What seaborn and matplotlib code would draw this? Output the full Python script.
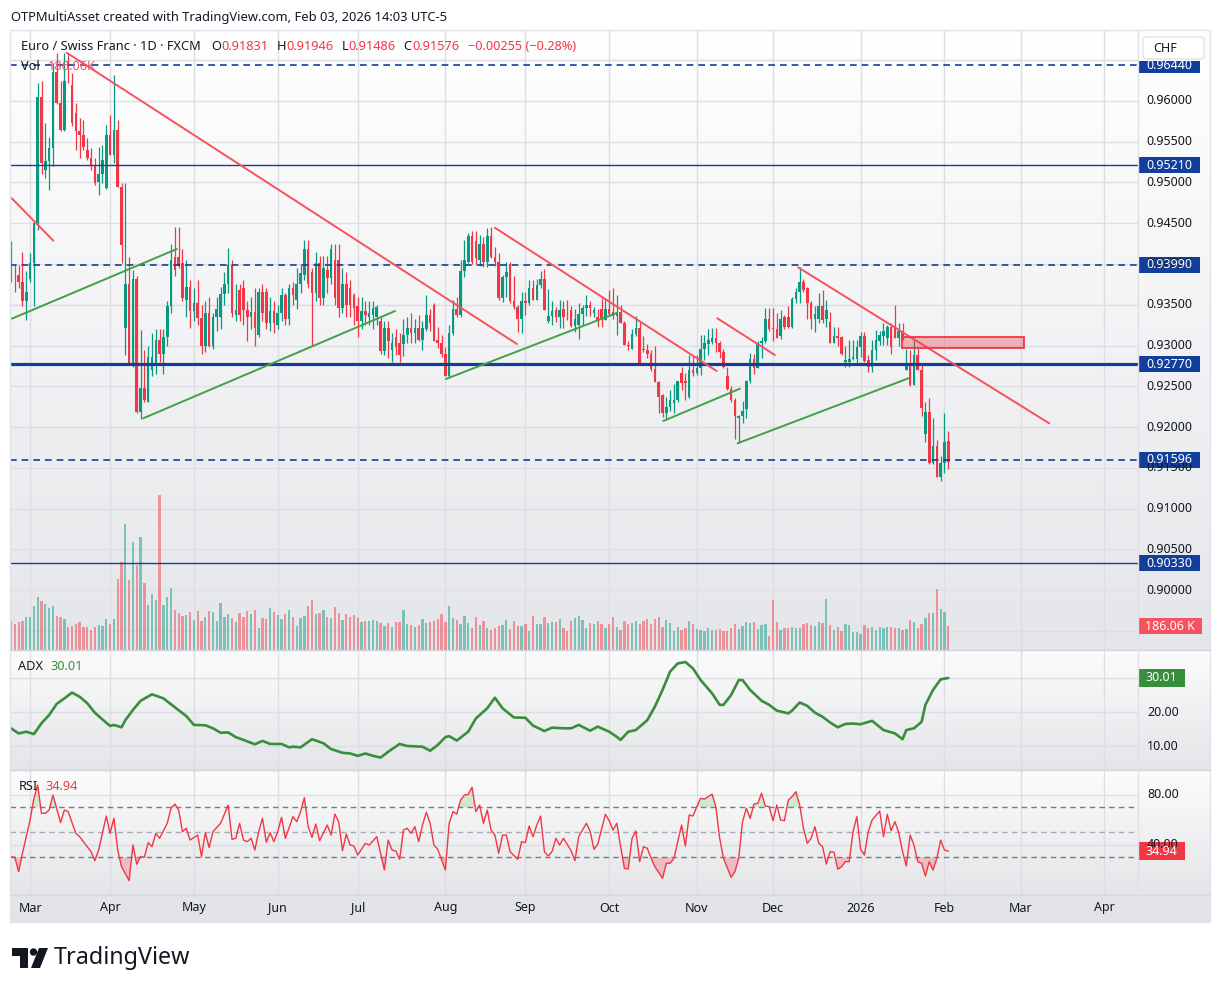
import numpy as np
import pandas as pd
import matplotlib
matplotlib.use("Agg")
import matplotlib.pyplot as plt
import matplotlib.transforms as mtransforms
from matplotlib.colors import LinearSegmentedColormap
from matplotlib.patches import Rectangle, Polygon, Circle, FancyBboxPatch
from matplotlib.lines import Line2D
from matplotlib.text import Annotation
import seaborn as sns

# ---------------------------------------------------------------- data
FIRST_SESSION = "2025-02-24"   # first daily bar shown (EUR/CHF, FXCM, 1D)

opens = [
    .9381, .9387, .9387, .9378, .9354, .9381, .9401, .9450, .9605, .9515,
    .9526, .9542, .9636, .9597, .9565, .9648, .9620, .9585, .9563, .9558,
    .9540, .9530, .9522, .9501, .9511, .9493, .9558, .9534, .9565, .9495,
    .9321, .9376, .9278, .9381, .9219, .9248, .9231, .9270, .9276, .9307,
    .9290, .9310, .9348, .9409, .9409, .9401, .9356, .9372, .9342, .9352,
    .9334, .9300, .9340, .9300, .9335, .9335, .9363, .9376, .9399, .9338,
    .9368, .9370, .9343, .9335, .9341, .9313, .9366, .9366, .9328, .9342,
    .9325, .9340, .9362, .9333, .9370, .9356, .9376, .9387, .9418, .9390,
    .9364, .9401, .9358, .9393, .9383, .9405, .9405, .9346, .9376, .9370,
    .9362, .9348, .9330, .9342, .9335, .9338, .9335, .9330, .9293, .9321,
    .9295, .9310, .9303, .9302, .9313, .9322, .9315, .9322, .9307, .9320,
    .9338, .9350, .9307, .9303, .9290, .9263, .9315, .9345, .9337, .9391,
    .9403, .9434, .9428, .9405, .9425, .9403, .9434, .9409, .9403, .9358,
    .9384, .9400, .9355, .9347, .9333, .9354, .9352, .9370, .9356, .9374,
    .9382, .9330, .9336, .9343, .9335, .9345, .9344, .9344, .9324, .9325,
    .9339, .9346, .9350, .9340, .9335, .9345, .9331, .9345, .9341, .9336,
    .9341, .9327, .9301, .9296, .9314, .9322, .9296, .9294, .9290, .9271,
    .9255, .9239, .9217, .9225, .9229, .9233, .9266, .9256, .9237, .9270,
    .9266, .9272, .9296, .9302, .9304, .9309, .9303, .9292, .9262, .9247,
    .9233, .9211, .9213, .9222, .9256, .9284, .9272, .9303, .9305, .9333,
    .9322, .9320, .9312, .9335, .9335, .9323, .9357, .9366, .9378, .9370,
    .9352, .9333, .9332, .9349, .9332, .9329, .9303, .9312, .9311, .9280,
    .9280, .9284, .9284, .9298, .9312, .9282, .9274, .9294, .9306, .9312,
    .9309, .9323, .9323, .9309, .9318, .9270, .9276, .9252, .9288, .9270,
    .9192, .9218, .9156, .9177, .9139, .9156, .91831,
]
highs = [
    .9428, .9399, .9399, .9415, .9391, .9413, .9452, .9622, .9624, .9573,
    .9556, .9646, .9659, .9624, .9659, .9659, .9634, .9597, .9579, .9577,
    .9554, .9542, .9530, .9544, .9546, .9571, .9583, .9632, .9577, .9499,
    .9499, .9409, .9393, .9385, .9319, .9295, .9299, .9315, .9320, .9320,
    .9320, .9355, .9425, .9445, .9445, .9418, .9405, .9380, .9370, .9380,
    .9350, .9355, .9360, .9340, .9360, .9372, .9390, .9420, .9405, .9375,
    .9375, .9380, .9355, .9360, .9370, .9370, .9375, .9370, .9360, .9355,
    .9350, .9370, .9365, .9375, .9378, .9395, .9400, .9430, .9430, .9395,
    .9415, .9410, .9410, .9410, .9425, .9425, .9425, .9395, .9390, .9380,
    .9365, .9360, .9360, .9355, .9355, .9355, .9350, .9335, .9330, .9330,
    .9315, .9320, .9315, .9333, .9335, .9340, .9333, .9337, .9330, .9362,
    .9345, .9352, .9323, .9313, .9298, .9325, .9356, .9360, .9405, .9430,
    .9438, .9440, .9440, .9435, .9433, .9444, .9445, .9421, .9413, .9386,
    .9403, .9403, .9385, .9350, .9366, .9366, .9380, .9380, .9382, .9391,
    .9394, .9369, .9354, .9347, .9356, .9354, .9356, .9348, .9345, .9352,
    .9350, .9362, .9354, .9347, .9345, .9358, .9357, .9368, .9371, .9362,
    .9350, .9330, .9305, .9320, .9336, .9329, .9312, .9302, .9294, .9299,
    .9257, .9241, .9237, .9245, .9253, .9256, .9274, .9266, .9288, .9288,
    .9288, .9313, .9313, .9320, .9321, .9321, .9305, .9296, .9274, .9250,
    .9235, .9215, .9232, .9258, .9291, .9290, .9305, .9310, .9346, .9346,
    .9346, .9340, .9344, .9337, .9348, .9360, .9370, .9396, .9382, .9372,
    .9354, .9348, .9364, .9368, .9356, .9341, .9323, .9323, .9312, .9299,
    .9307, .9307, .9307, .9316, .9316, .9288, .9307, .9319, .9318, .9327,
    .9325, .9327, .9350, .9327, .9328, .9296, .9294, .9307, .9298, .9276,
    .9231, .9235, .9211, .9184, .9164, .9217, .91946,
]
lows = [
    .9378, .9366, .9370, .9348, .9331, .9378, .9348, .9442, .9511, .9505,
    .9491, .9520, .9596, .9563, .9563, .9622, .9569, .9540, .9530, .9540,
    .9528, .9515, .9497, .9485, .9499, .9492, .9534, .9524, .9495, .9401,
    .9288, .9278, .9274, .9217, .9210, .9231, .9231, .9262, .9265, .9280,
    .9265, .9300, .9340, .9385, .9395, .9355, .9335, .9322, .9330, .9325,
    .9290, .9292, .9298, .9296, .9318, .9320, .9350, .9365, .9335, .9330,
    .9330, .9325, .9305, .9320, .9300, .9310, .9330, .9320, .9318, .9315,
    .9320, .9330, .9325, .9325, .9350, .9345, .9365, .9380, .9370, .9300,
    .9355, .9350, .9350, .9365, .9375, .9350, .9335, .9340, .9335, .9335,
    .9325, .9310, .9320, .9325, .9325, .9320, .9325, .9290, .9288, .9285,
    .9280, .9288, .9280, .9287, .9303, .9303, .9303, .9305, .9295, .9318,
    .9318, .9305, .9297, .9286, .9263, .9261, .9313, .9335, .9335, .9384,
    .9401, .9400, .9400, .9398, .9396, .9396, .9407, .9398, .9356, .9353,
    .9360, .9352, .9345, .9317, .9315, .9337, .9350, .9356, .9356, .9371,
    .9344, .9328, .9325, .9329, .9321, .9321, .9331, .9323, .9317, .9308,
    .9325, .9336, .9336, .9335, .9323, .9323, .9331, .9336, .9333, .9313,
    .9327, .9301, .9294, .9296, .9312, .9278, .9292, .9285, .9269, .9255,
    .9217, .9212, .9208, .9220, .9217, .9231, .9245, .9233, .9235, .9262,
    .9264, .9264, .9282, .9288, .9302, .9292, .9285, .9272, .9245, .9231,
    .9185, .9180, .9205, .9211, .9254, .9265, .9272, .9285, .9303, .9318,
    .9305, .9309, .9308, .9320, .9322, .9322, .9352, .9352, .9366, .9333,
    .9320, .9317, .9327, .9327, .9323, .9303, .9303, .9299, .9288, .9274,
    .9274, .9282, .9276, .9286, .9280, .9267, .9268, .9282, .9301, .9301,
    .9301, .9290, .9309, .9299, .9307, .9270, .9250, .9252, .9270, .9214,
    .9181, .9155, .9155, .9139, .9134, .9143, .91486,
]
closes = [
    .9389, .9386, .9378, .9354, .9366, .9401, .9450, .9605, .9524, .9526,
    .9542, .9636, .9597, .9565, .9624, .9643, .9573, .9563, .9558, .9544,
    .9530, .9522, .9499, .9511, .9528, .9558, .9534, .9565, .9495, .9423,
    .9376, .9278, .9381, .9219, .9248, .9233, .9286, .9286, .9307, .9290,
    .9310, .9348, .9405, .9393, .9397, .9358, .9372, .9342, .9352, .9334,
    .9300, .9340, .9300, .9335, .9345, .9363, .9376, .9399, .9340, .9343,
    .9338, .9343, .9335, .9341, .9321, .9366, .9340, .9328, .9342, .9328,
    .9340, .9362, .9333, .9370, .9362, .9376, .9389, .9418, .9376, .9364,
    .9401, .9358, .9395, .9383, .9418, .9358, .9346, .9376, .9350, .9350,
    .9346, .9330, .9342, .9337, .9340, .9346, .9347, .9293, .9321, .9305,
    .9303, .9298, .9288, .9313, .9322, .9315, .9322, .9307, .9322, .9338,
    .9328, .9305, .9303, .9290, .9263, .9315, .9345, .9337, .9391, .9405,
    .9434, .9403, .9407, .9425, .9403, .9434, .9409, .9403, .9358, .9384,
    .9390, .9355, .9347, .9333, .9354, .9352, .9370, .9356, .9374, .9382,
    .9344, .9336, .9342, .9335, .9344, .9335, .9343, .9324, .9332, .9339,
    .9346, .9350, .9346, .9344, .9331, .9331, .9345, .9339, .9336, .9341,
    .9327, .9301, .9299, .9314, .9322, .9278, .9294, .9290, .9271, .9255,
    .9237, .9217, .9225, .9233, .9233, .9256, .9254, .9254, .9270, .9266,
    .9272, .9296, .9303, .9307, .9309, .9303, .9292, .9274, .9247, .9233,
    .9213, .9213, .9220, .9256, .9284, .9272, .9303, .9305, .9333, .9320,
    .9320, .9309, .9333, .9323, .9323, .9357, .9366, .9378, .9368, .9352,
    .9333, .9339, .9349, .9331, .9344, .9303, .9312, .9309, .9290, .9282,
    .9284, .9286, .9298, .9312, .9281, .9274, .9294, .9307, .9313, .9318,
    .9323, .9298, .9309, .9318, .9308, .9276, .9252, .9288, .9270, .9223,
    .9218, .9156, .9177, .9139, .9156, .9182, .91576,
]
volume_k = [
    232, 205, 219, 232, 258, 263, 350, 416, 390, 363,
    329, 350, 271, 263, 248, 179, 187, 205, 219, 179,
    184, 161, 184, 200, 192, 248, 205, 248, 564, 698,
    998, 556, 856, 672, 895, 532, 358, 442, 398, 1227,
    358, 421, 492, 319, 295, 271, 279, 303, 240, 311,
    232, 258, 311, 303, 232, 374, 263, 287, 255, 224,
    295, 263, 311, 287, 319, 176, 255, 248, 334, 303,
    279, 248, 287, 319, 263, 192, 255, 271, 350, 398,
    287, 295, 319, 263, 255, 342, 295, 240, 287, 263,
    279, 255, 224, 232, 232, 240, 232, 211, 192, 216,
    184, 224,
    224, 319, 208, 200, 184, 200, 248, 216, 224, 232,
    248, 287, 224, 350, 255, 240, 208, 271, 216, 176,
    263, 200, 232, 176, 161, 176, 192, 200, 240, 168,
    232, 192, 192, 208, 153, 271, 208, 208, 263, 216,
    224, 224, 248, 176, 153, 232, 255, 271, 240, 176,
    216, 208, 232, 208, 176, 208, 263, 184, 161, 232,
    208, 216, 232, 208, 232, 248, 208, 248, 263, 184,
    240, 216, 153, 184, 161, 176, 232, 208, 168, 161,
    153, 176, 161, 161, 168, 153, 153, 176, 208, 168,
    192, 224, 216, 224, 168, 200, 208, 113, 398, 224,
    161, 176, 176, 184, 176, 176, 208, 216, 200, 192,
    224, 216, 406, 200, 161, 184, 153, 208, 200, 145,
    145, 129, 200, 176, 184, 161, 184, 176, 184, 184,
    176, 176, 161, 168, 240, 224, 176, 208, 255, 295,
    295, 485, 327, 303, 186.06,
]

adx_bar = [0, 2, 4, 6, 8, 10, 12, 14, 16, 18, 20, 22, 24, 26, 27, 29, 30, 32, 34, 37,
           40, 43, 46, 48, 51, 53, 55, 57, 59, 61, 64, 66, 68, 71, 73, 74, 76, 79, 82, 84,
           87, 89, 91, 93, 95, 97, 99, 102, 104, 108, 110, 112, 114, 115, 117, 120, 122, 125, 127, 129,
           132, 135, 137, 140, 142, 145, 147, 149, 152, 154, 157, 159, 160, 162, 164, 167, 169, 171, 173, 175,
           177, 179, 181, 184, 186, 187, 189, 191, 192, 194, 197, 199, 201, 204, 205, 207, 209, 211, 213, 215,
           217, 219, 221, 223, 226, 227, 229, 232, 234, 235, 237, 239, 240, 242, 244, 246]
adx_val = [15.2, 13.7, 14.2, 13.5, 16.7, 19.1, 22.4, 24.0, 25.7, 24.5, 22.6, 19.8, 17.8, 15.9, 16.2, 15.5, 17.6, 20.6, 23.3, 25.2,
           24.0, 21.4, 18.8, 16.2, 16.1, 15.2, 13.9, 14.0, 12.6, 11.8, 10.5, 11.5, 10.6, 10.6, 9.6, 9.8, 9.6, 12.0, 10.8, 9.1,
           8.0, 7.8, 7.1, 7.8, 7.1, 6.6, 8.3, 10.6, 10.0, 9.8, 8.6, 10.3, 12.6, 12.9, 11.6, 14.2, 18.1, 21.1, 24.2, 21.1,
           18.4, 18.3, 16.0, 14.4, 15.4, 15.2, 15.2, 16.2, 14.5, 15.7, 14.2, 12.7, 11.8, 14.2, 14.7, 17.6, 21.6, 26.5, 31.9, 34.3,
           34.7, 32.8, 29.4, 25.5, 22.1, 22.1, 25.0, 29.4, 29.4, 26.5, 23.3, 22.1, 20.4, 19.6, 20.4, 22.8, 21.8, 19.8, 18.6, 16.9,
           15.5, 16.5, 16.6, 16.4, 17.4, 16.5, 14.7, 13.7, 12.0, 14.7, 15.2, 17.1, 22.1, 26.5, 29.6, 30.01]

rsi_bar = [0, 1, 2, 3, 5, 6, 7, 8, 9, 10, 11, 13, 14, 15, 17, 18, 20, 21, 22, 23,
           25, 26, 27, 28, 29, 31, 32, 33, 34, 35, 36, 37, 38, 39, 41, 42, 43, 44, 45, 46,
           47, 49, 50, 51, 52, 53, 55, 57, 58, 59, 60, 61, 62, 63, 64, 65, 66, 67, 68, 69,
           70, 71, 72, 74, 75, 76, 77, 78, 79, 80, 81, 83, 84, 85, 86, 87, 88, 89, 90, 91,
           93, 94, 96, 98, 99, 100, 101, 102, 103, 104, 105, 106, 107, 108, 109, 110, 111, 112, 114, 115,
           116, 117, 118, 119, 120, 121, 122, 123, 124, 125, 126, 127, 128, 129, 130, 131, 133, 134, 135, 136,
           137, 138, 139, 140, 141, 142, 143, 144, 145, 147, 148, 149, 151, 152, 153, 154, 156, 157, 158, 159,
           160, 161, 162, 163, 164, 165, 166, 167, 168, 169, 171, 172, 173, 174, 176, 177, 178, 179, 180, 181,
           182, 184, 185, 186, 187, 189, 190, 191, 192, 193, 194, 195, 196, 197, 198, 199, 200, 201, 202, 203,
           204, 205, 206, 207, 208, 209, 210, 211, 212, 213, 214, 215, 216, 217, 218, 219, 220, 221, 222, 223,
           224, 225, 226, 228, 229, 230, 231, 232, 233, 234, 235, 236, 237, 238, 239, 240, 241, 242, 243, 244,
           245, 246]
rsi_val = [30.5, 30.0, 18.5, 33.2, 59.8, 77.2, 87.8, 65.2, 65.2, 67.8, 79.8, 57.7, 67.8, 66.5, 49.2, 46.5, 38.5, 34.5, 27.3, 35.8,
           63.0, 49.2, 61.2, 35.8, 22.5, 11.3, 39.8, 24.4, 30.5, 30.0, 41.7, 38.5, 49.2, 45.2, 57.2, 69.2, 72.6, 67.8, 50.5, 53.2,
           43.8, 47.8, 30.5, 49.7, 37.7, 50.5, 57.2, 71.8, 44.4, 45.2, 57.2, 43.8, 42.5, 45.2, 35.8, 50.5, 61.2, 42.0, 49.7, 42.5,
           50.5, 62.0, 45.2, 62.5, 58.5, 66.5, 77.7, 54.5, 46.0, 56.6, 43.3, 55.8, 47.8, 64.6, 58.5, 35.3, 48.6, 39.8, 39.0, 31.8,
           41.2, 39.8, 46.5, 19.8, 43.8, 35.8, 35.0, 28.4, 51.8, 53.2, 49.2, 54.5, 42.5, 55.8, 66.0, 57.2, 39.8, 36.4, 19.8, 57.2,
           66.5, 64.6, 75.8, 79.8, 80.4, 86.0, 66.5, 71.8, 57.2, 67.8, 51.8, 47.8, 33.2, 47.8, 47.8, 34.5, 28.4, 42.5, 41.7, 55.0,
           46.5, 55.8, 63.0, 34.5, 31.0, 34.5, 45.2, 39.8, 45.2, 35.3, 27.3, 46.5, 57.2, 51.0, 36.4, 40.4, 64.4, 59.3, 51.8, 57.2,
           38.5, 21.2, 20.6, 45.2, 51.0, 26.5, 38.5, 37.2, 29.2, 22.5, 13.2, 25.2, 25.2, 29.2, 55.8, 39.0, 63.8, 63.0, 70.5, 77.2,
           76.6, 80.6, 70.5, 45.2, 29.2, 14.0, 18.5, 29.2, 58.5, 69.2, 61.2, 72.6, 73.2, 81.2, 71.0, 70.5, 59.3, 71.8, 59.8, 59.3,
           75.8, 78.5, 82.5, 71.8, 53.2, 41.2, 45.2, 54.5, 41.2, 38.5, 24.6, 34.5, 34.0, 20.4, 22.5, 26.5, 26.5, 50.5, 62.5, 36.4,
           31.8, 50.5, 59.8, 67.0, 46.5, 64.4, 51.3, 58.5, 49.7, 34.5, 23.0, 47.8, 39.8, 26.5, 25.2, 15.0, 26.5, 19.8, 29.2, 43.8,
           35.8, 34.94]

# horizontal levels drawn on the chart
level_prices = [0.96440, 0.95210, 0.93990, 0.92770, 0.91596, 0.90330]
# trend lines: (start bar, start price, end bar, end price)
red_trend = [(0.2, 0.94806, 11.1, 0.94286), (14.6, 0.96593, 132.8, 0.93018),
             (127.0, 0.94445, 185.2, 0.92687), (185.4, 0.93333, 200.5, 0.92883),
             (206.6, 0.93959, 272.5, 0.92045)]
green_trend = [(0.2, 0.93329, 43.5, 0.94184), (34.7, 0.92107, 100.8, 0.93423),
               (114.1, 0.92589, 159.0, 0.93399), (171.2, 0.92074, 191.3, 0.92470),
               (190.7, 0.91800, 235.5, 0.92597)]
zone_bars = (233.8, 266.0)
zone_prices = (0.92966, 0.93101)
price_labels = [0.900, 0.905, 0.910, 0.915, 0.920, 0.925, 0.930, 0.935, 0.940,
                0.945, 0.950, 0.955, 0.960]
price_grid = [0.895] + price_labels + [0.965]
adx_labels = [10, 20]
rsi_labels = [40, 80]
rsi_bands = [70, 50, 30]

# ---------------------------------------------------------------- style
sns.set_theme(style="white")
plt.rcParams["font.family"] = ["Noto Sans", "DejaVu Sans"]

TEXT = "#131722"
UP = "#089981"
DOWN = "#f23645"
BLUE = "#123f9b"
ADXC = "#388e3c"
GRID = "#dcdee3"

W, H = 1220, 992
L, R = 10, 1138
fig = plt.figure(figsize=(W / 100, H / 100), dpi=100)
fig.patch.set_facecolor("white")
PX = mtransforms.Affine2D().scale(1, -1).translate(0, H)


def rect(x0, y0, x1, y1):
    return [x0 / W, 1 - y1 / H, (x1 - x0) / W, (y1 - y0) / H]


def gradient(ax, top, bottom):
    cmap = LinearSegmentedColormap.from_list("bg", [bottom, top])
    ax.imshow(np.linspace(0, 1, 256).reshape(-1, 1), cmap=cmap, aspect="auto",
              extent=[0, 1, 0, 1], transform=ax.transAxes, origin="lower", zorder=0)


def bg_axes(y0, y1, top, bottom):
    ax = fig.add_axes(rect(L, y0, 1210, y1))
    ax.set_axis_off()
    gradient(ax, top, bottom)
    return ax


def data_axes(y0, y1):
    ax = fig.add_axes(rect(L, y0, R, y1))
    ax.patch.set_visible(False)
    for s in ax.spines.values():
        s.set_visible(False)
    return ax


n = len(closes)
idx = np.arange(n)
o, h, lo, c = map(np.array, (opens, highs, lows, closes))
up = c >= o
cols = np.where(up, UP, DOWN)

dates = pd.bdate_range(FIRST_SESSION, periods=300)
month_pos, month_txt = [], []
for i in range(1, len(dates)):
    if dates[i].month != dates[i - 1].month:
        month_pos.append(i)
        month_txt.append(str(dates[i].year) if dates[i].month == 1 else dates[i].strftime("%b"))

XMIN, XMAX = -0.27, 295.8

# backgrounds
bg_axes(30, 650, "#ffffff", "#e5e6e9")
bg_axes(650, 770, "#fcfcfc", "#e4e5e8")
bg_axes(770, 895, "#fcfcfc", "#e4e5e8")
bg_axes(895, 922, "#e4e5e8", "#e2e3e7")

ax_v = data_axes(30, 650)   # volume layer (under price)
ax_p = data_axes(30, 650)
ax_a = data_axes(650, 770)
ax_s = data_axes(770, 895)

# grid in volume layer
grid_tr = mtransforms.blended_transform_factory(ax_v.transAxes, ax_p.transData)
for p in price_grid:
    ax_v.add_artist(Line2D([0, 1], [p, p], transform=grid_tr, color=GRID, lw=1, zorder=0.5))
for ax in (ax_v, ax_a, ax_s):
    for m in month_pos:
        ax.axvline(m, color=GRID, lw=1, zorder=0.5)
for v in (10, 20, 30):
    ax_a.axhline(v, color=GRID, lw=1, zorder=0.5)
for v in (0, 40, 80):
    ax_s.axhline(v, color=GRID, lw=1, zorder=0.5)

# volume bars
ax_v.bar(idx, volume_k, width=0.6, color=cols, alpha=0.48, linewidth=0, zorder=2)
ax_v.set_ylim(0, 4898)

# candles
ax_p.vlines(idx, lo, h, colors=cols, lw=0.9, zorder=3)
body_lo = np.minimum(o, c)
body_h = np.maximum(np.abs(c - o), 0.00004)
ax_p.bar(idx, body_h, bottom=body_lo, width=0.68, color=cols, linewidth=0, zorder=4)

# levels
for p in level_prices:
    if p in (0.96440, 0.93990, 0.91596):
        ax_p.axhline(p, color=BLUE, lw=1.2, ls=(0, (4, 3)), zorder=5)
    elif p == 0.92770:
        ax_p.axhline(p, color=BLUE, lw=2.3, zorder=5)
    else:
        ax_p.axhline(p, color=BLUE, lw=1.0, zorder=5)

for b0, p0, b1, p1 in red_trend:
    ax_p.plot([b0, b1], [p0, p1], color="#f5515f", lw=1.4, zorder=6)
for b0, p0, b1, p1 in green_trend:
    ax_p.plot([b0, b1], [p0, p1], color="#43a047", lw=1.4, zorder=6)
ax_p.add_patch(Rectangle((zone_bars[0], zone_prices[0]), zone_bars[1] - zone_bars[0],
                         zone_prices[1] - zone_prices[0], fc=(0.95, 0.21, 0.27, 0.35),
                         ec=DOWN, lw=1.3, zorder=6))
ax_p.set_ylim(0.89264, 0.96871)

# ADX / RSI
sns.lineplot(x=adx_bar, y=adx_val, ax=ax_a, color=ADXC, linewidth=1.9, zorder=4)
ax_a.set_ylim(2.94, 38.24)

rb = np.array(rsi_bar, dtype=float)
rv = np.array(rsi_val, dtype=float)
ax_s.fill_between(rb, rv, 70, where=rv >= 70, interpolate=True, color="#66bb6a", alpha=0.25, lw=0, zorder=2)
ax_s.fill_between(rb, rv, 30, where=rv <= 30, interpolate=True, color=DOWN, alpha=0.25, lw=0, zorder=2)
for v in rsi_bands:
    ax_s.axhline(v, color="#787b86" if v != 50 else "#a8abb4", lw=1.0, ls=(0, (4, 3)), zorder=1)
sns.lineplot(x=rsi_bar, y=rsi_val, ax=ax_s, color=DOWN, linewidth=1.0, zorder=4)
ax_s.set_ylim(-0.16, 99.84)

for ax in (ax_v, ax_p, ax_a, ax_s):
    ax.set_xlim(XMIN, XMAX)
    ax.set_xticks([])
    ax.set_yticks([])
    ax.set_xlabel("")
    ax.set_ylabel("")


# right-hand scale labels
def scale_label(ax, y, s, xc=1169, color=TEXT, bold=False):
    tr = mtransforms.blended_transform_factory(mtransforms.IdentityTransform(), ax.transData)
    ax.text(xc, y, s, transform=tr, ha="center", va="center", fontsize=9, color=color,
            fontweight="bold" if bold else "normal", clip_on=False, zorder=21)


def value_box(ax, y, s, fc, x0=1138, x1=1200, hpx=16, alpha=1.0):
    tr = mtransforms.blended_transform_factory(mtransforms.IdentityTransform(), ax.transData)
    ax.add_artist(Line2D([x0, x1], [y, y], transform=tr, lw=hpx * 0.72, color=fc, alpha=alpha,
                         solid_capstyle="butt", clip_on=False, zorder=20))
    scale_label(ax, y, s, xc=(x0 + x1) / 2, color="white", bold=True)


for p in price_labels:
    scale_label(ax_p, p, f"{p:.5f}")
for p in level_prices:
    value_box(ax_p, p, f"{p:.5f}", BLUE)
value_box(ax_v, volume_k[-1], f"{volume_k[-1]:.2f} K", "#f7525f", x1=1202)

for v in adx_labels:
    scale_label(ax_a, v, f"{v:.2f}", xc=1163)
value_box(ax_a, adx_val[-1], f"{adx_val[-1]:.2f}", ADXC, x1=1185, hpx=18)
for v in rsi_labels:
    scale_label(ax_s, v, f"{v:.2f}", xc=1163)
value_box(ax_s, rsi_val[-1], f"{rsi_val[-1]:.2f}", DOWN, x1=1185, hpx=18)

# month labels
xtr = mtransforms.blended_transform_factory(ax_s.transData, PX)
for m, t in zip(month_pos, month_txt):
    if m <= XMAX - 4:
        fig.text(m, 908, t, transform=xtr, ha="center", va="center", fontsize=9, color=TEXT,
                 fontweight="bold" if t.isdigit() else "normal")


# frame lines
def px_line(xs, ys, color, lw=1.0):
    fig.add_artist(Line2D(xs, ys, transform=PX, color=color, lw=lw))


px_line([L, 1210], [650, 650], "#d1d4dc")
px_line([L, 1210], [770, 770], "#d1d4dc")
px_line([L, 1210], [895, 895], "#d6d8de")
px_line([R, R], [30, 922], "#dfe1e6")
fig.add_artist(Rectangle((L, 30), 1200, 892, transform=PX, fill=False, ec="#e0e3eb", lw=1))

# CHF button (its white margin hides the top of the highest level tag)
fig.add_artist(Rectangle((1139, 31), 70, 30, transform=PX, fc="#fdfdfd", ec="none"))
fig.add_artist(FancyBboxPatch((1143, 37), 61, 22, boxstyle="round,pad=0,rounding_size=4",
                              transform=PX, fc="white", ec="#e0e3eb", lw=1))
fig.text(1165, 48, "CHF", transform=PX, ha="center", va="center", fontsize=9, color=TEXT)


# legends (chained text)
def chain(x, y, parts, size=9.2):
    prev = fig.text(x, y, parts[0][0], transform=PX, color=parts[0][1], fontsize=size,
                    ha="left", va="center")
    for s, col, gap in parts[1:]:
        ann = Annotation(s, xy=(1, 0.5), xycoords=prev, xytext=(gap, 0),
                         textcoords="offset pixels", color=col, fontsize=size,
                         ha="left", va="center")
        fig.add_artist(ann)
        prev = ann


fig.text(11, 18, "OTPMultiAsset created with TradingView.com, Feb 03, 2026 14:03 UTC-5",
         transform=PX, fontsize=9.3, color=TEXT, ha="left", va="center")
chain(21, 47, [("Euro / Swiss Franc · 1D · FXCM", TEXT, 0), ("O", TEXT, 10),
               (f"{opens[-1]:.5f}", DOWN, 0.5), ("H", TEXT, 8), (f"{highs[-1]:.5f}", DOWN, 0.5),
               ("L", TEXT, 8), (f"{lows[-1]:.5f}", DOWN, 0.5), ("C", TEXT, 8),
               (f"{closes[-1]:.5f}", DOWN, 0.5), ("−0.00255 (−0.28%)", DOWN, 8)])
chain(21, 66, [("Vol", TEXT, 0), (f"{volume_k[-1]:.2f}K", "#f7525f", 8)])
chain(18, 667, [("ADX", TEXT, 0), (f"{adx_val[-1]:.2f}", ADXC, 7)])
chain(19, 787, [("RSI", TEXT, 0), (f"{rsi_val[-1]:.2f}", DOWN, 7)])

# TradingView logo
fig.add_artist(Polygon([(12, 948), (28, 948), (28, 968), (20, 968), (20, 956), (12, 956)],
                       closed=True, transform=PX, fc=TEXT, ec="none"))
fig.add_artist(Circle((33.5, 952), 3.7, transform=PX, fc=TEXT, ec="none"))
fig.add_artist(Polygon([(39, 948), (48, 948), (40, 968), (31, 968)], closed=True,
                       transform=PX, fc=TEXT, ec="none"))
fig.text(54, 958, "TradingView", transform=PX, fontsize=16.8, fontweight="bold",
         color=TEXT, ha="left", va="center")

fig.savefig("out.png", dpi=100)
